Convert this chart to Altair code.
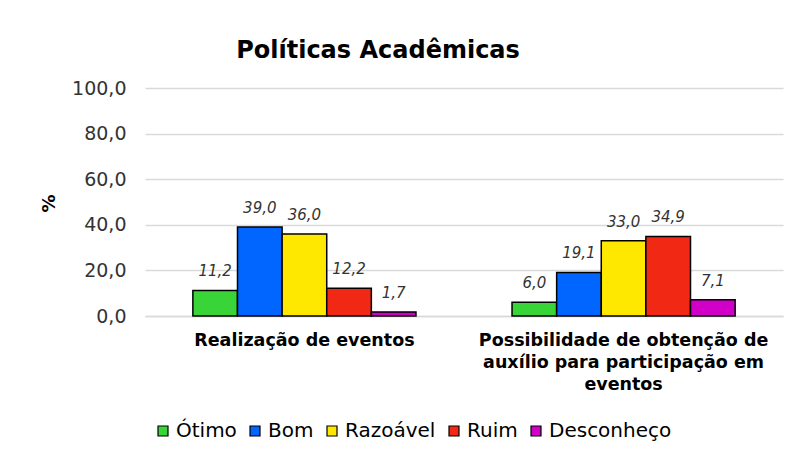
import json
import altair as alt
import pandas as pd

categories = ["Realização de eventos",
              "Possibilidade de obtenção de auxílio para participação em eventos"]
category_lines = [["Realização de eventos"],
                  ["Possibilidade de obtenção de", "auxílio para participação em", "eventos"]]
series = ["Ótimo", "Bom", "Razoável", "Ruim", "Desconheço"]
colors = ["#38d438", "#0066ff", "#ffe800", "#f02814", "#d000c8"]
realizacao = [11.2, 39.0, 36.0, 12.2, 1.7]
possibilidade = [6.0, 19.1, 33.0, 34.9, 7.1]

rows = []
for cat, vals in zip(categories, [realizacao, possibilidade]):
    for s, v in zip(series, vals):
        rows.append({"cat": cat, "serie": s, "val": v,
                     "lab": f"{v:.1f}".replace(".", ",")})
df = pd.DataFrame(rows)

label_expr = ""
for cat, lines in zip(categories[1:], category_lines[1:]):
    label_expr += f"datum.value == {json.dumps(cat, ensure_ascii=False)} ? {json.dumps(lines, ensure_ascii=False)} : "
label_expr += "datum.value"

FONT = "DejaVu Sans"

base = alt.Chart(df).encode(
    x=alt.X("cat:N", sort=categories, title=None,
            scale=alt.Scale(paddingInner=0.301, paddingOuter=0.15),
            axis=alt.Axis(labelAngle=0, labelExpr=label_expr, labelFont=FONT,
                          labelFontSize=17.5, labelFontWeight="bold", labelColor="#000000",
                          labelLineHeight=22, labelPadding=15, labelLimit=400,
                          ticks=False, domain=True, domainColor="#d9d9d9",
                          domainWidth=1.5, labelBaseline="top")),
    xOffset=alt.XOffset("serie:N", sort=series,
                        scale=alt.Scale(paddingInner=0, paddingOuter=0)),
    y=alt.Y("val:Q", scale=alt.Scale(domain=[0, 100]),
            axis=alt.Axis(values=[0, 20, 40, 60, 80, 100],
                          labelExpr="replace(format(datum.value, '.1f'), '.', ',')",
                          labelFont=FONT, labelFontSize=19, labelColor="#333333",
                          labelPadding=19, ticks=False, domain=False,
                          gridColor="#d9d9d9", gridWidth=1.5,
                          title="%", titleFont=FONT, titleFontSize=18,
                          titleFontWeight="bold", titleColor="#000000",
                          titleAngle=-90, titleX=-96, titleY=115,
                          titleAlign="center", titleBaseline="middle")),
)

bars = base.mark_bar(stroke="#000000", strokeWidth=1.5).encode(
    color=alt.Color("serie:N", sort=series,
                    scale=alt.Scale(domain=series, range=colors),
                    legend=alt.Legend(title=None, orient="none", direction="horizontal",
                                      legendX=8, legendY=333, symbolType="square",
                                      symbolSize=100, symbolStrokeColor="#000000",
                                      symbolStrokeWidth=1.2, symbolOpacity=1,
                                      labelFont=FONT, labelFontSize=20,
                                      labelColor="#000000", labelOffset=3,
                                      columnPadding=8))
)

labels = base.mark_text(dy=-19, fontStyle="italic", fontSize=15, font=FONT,
                        color="#333333").encode(text="lab:N")

chart = alt.layer(bars, labels).properties(
    width=638, height=228,
    autosize=alt.AutoSizeParams(type="none"),
    padding={"left": 137, "top": 80, "right": 6, "bottom": 131},
    title=alt.TitleParams("Políticas Acadêmicas", font=FONT, fontSize=24,
                          fontWeight="bold", color="#000000", anchor="middle",
                          dx=-86, offset=16),
    background="#ffffff",
).configure_view(stroke=None)

chart.save("out.html", embed_options={"renderer": "svg", "actions": False})
